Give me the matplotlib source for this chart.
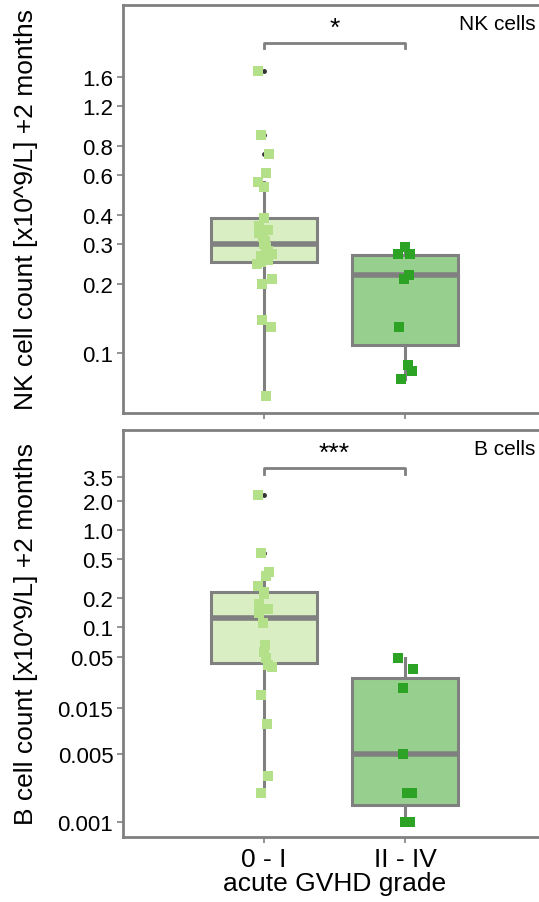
import numpy as np
import matplotlib
matplotlib.use("Agg")
import matplotlib.pyplot as plt
import matplotlib.transforms as mtransforms

plt.rcParams["font.family"] = ["Liberation Sans", "DejaVu Sans"]

# Grupos de GVHD aguda
grupos = ["0 - I", "II - IV"]

# Células NK (+2 meses), x10^9/L
nk_leve = [1.7, 0.9, 0.74, 0.61, 0.56, 0.53, 0.39, 0.36, 0.345, 0.335, 0.32,
           0.31, 0.30, 0.29, 0.28, 0.27, 0.265, 0.26, 0.255, 0.25, 0.245,
           0.21, 0.20, 0.14, 0.13, 0.065]
nk_grave = [0.29, 0.27, 0.27, 0.219, 0.21, 0.13, 0.0887, 0.0834, 0.077]

# Células B (+2 meses), x10^9/L
b_leve = [2.29, 0.58, 0.37, 0.34, 0.266, 0.23, 0.22, 0.174, 0.154, 0.14,
          0.11, 0.066, 0.056, 0.048, 0.041, 0.039, 0.020, 0.0102, 0.0030,
          0.0020]
b_grave = [0.048, 0.037, 0.024, 0.005, 0.002, 0.002, 0.001, 0.001]

# Estatísticas das caixas: [q1, mediana, q3, bigode inferior, bigode superior]
nk_caixas = [[0.25, 0.30, 0.389, 0.065, 0.56], [0.108, 0.219, 0.268, 0.077, 0.29]]
b_caixas = [[0.043, 0.125, 0.23, 0.002, 0.37], [0.0015, 0.005, 0.030, 0.001, 0.048]]
nk_outliers = [[1.7, 0.9, 0.74, 0.61], []]
b_outliers = [[2.29, 0.58], []]

# Marcas do eixo y
nk_ticks = [0.1, 0.2, 0.3, 0.4, 0.6, 0.8, 1.2, 1.6]
nk_ticklabels = ["0.1", "0.2", "0.3", "0.4", "0.6", "0.8", "1.2", "1.6"]
b_ticks = [0.001, 0.005, 0.015, 0.05, 0.1, 0.2, 0.5, 1.0, 2.0, 3.5]
b_ticklabels = ["0.001", "0.005", "0.015", "0.05", "0.1", "0.2", "0.5", "1.0", "2.0", "3.5"]

cor_pontos = ["#b3e088", "#2ca325"]
cor_caixa = ["#d9efc3", "#97d08e"]
cinza = "#808080"


def painel(ax, leve, grave, caixas, outliers, ticks, ticklabels, ylim,
           ylabel, titulo, sig):
    stats = []
    for k in range(2):
        q1, med, q3, lo, hi = caixas[k]
        stats.append(dict(q1=q1, med=med, q3=q3, whislo=lo, whishi=hi,
                          fliers=outliers[k]))
    bp = ax.bxp(stats, positions=[0, 1], widths=0.75, patch_artist=True,
                showcaps=False,
                boxprops=dict(edgecolor=cinza, linewidth=2.2),
                whiskerprops=dict(color=cinza, linewidth=2.2),
                medianprops=dict(color=cinza, linewidth=4),
                flierprops=dict(marker="o", markersize=2.5,
                                markerfacecolor="#333333",
                                markeredgecolor="#333333"))
    for k, caixa in enumerate(bp["boxes"]):
        caixa.set_facecolor(cor_caixa[k])
        caixa.set_zorder(1)

    # pontos individuais com um pequeno espalhamento horizontal
    rng = np.random.default_rng(3)
    for k, valores in enumerate([leve, grave]):
        x = k + rng.uniform(-0.05, 0.06, len(valores))
        ax.scatter(x, valores, marker="s", s=45, color=cor_pontos[k],
                   linewidths=0, zorder=4)

    ax.set_yscale("log")
    ax.set_ylim(ylim)
    ax.set_xlim(-1, 2)
    ax.yaxis.set_major_locator(matplotlib.ticker.FixedLocator(ticks))
    ax.yaxis.set_minor_locator(matplotlib.ticker.NullLocator())
    ax.set_yticklabels(ticklabels)
    ax.set_xticks([0, 1])
    ax.tick_params(axis="both", length=4, width=1.2, color=cinza,
                   labelsize=16, pad=3)
    for s in ax.spines.values():
        s.set_color(cinza)
        s.set_linewidth(2)

    ax.set_ylabel(ylabel, fontsize=19)
    ax.yaxis.set_label_coords(-0.2, 0.5)

    # barra de significância
    trans = mtransforms.blended_transform_factory(ax.transData, ax.transAxes)
    ax.plot([0, 0, 1, 1], [0.893, 0.906, 0.906, 0.893], color=cinza,
            linewidth=2, transform=trans, clip_on=False)
    ax.text(0.5, 0.915, sig, ha="center", va="bottom", fontsize=19,
            transform=trans)
    ax.text(0.976, 0.955, titulo, ha="right", va="center", fontsize=15,
            transform=ax.transAxes)


fig = plt.figure(figsize=(5.39, 9.03), dpi=100)
ax1 = fig.add_axes([0.2282, 0.5415, 0.7848, 0.4522])
ax2 = fig.add_axes([0.2282, 0.0720, 0.7848, 0.4507])

painel(ax1, nk_leve, nk_grave, nk_caixas, nk_outliers, nk_ticks, nk_ticklabels,
       (0.0547, 3.32), "NK cell count [x10^9/L] +2 months", "NK cells", "*")
painel(ax2, b_leve, b_grave, b_caixas, b_outliers, b_ticks, b_ticklabels,
       (0.0007, 10.7), "B cell count [x10^9/L] +2 months", "B cells", "***")

ax1.set_xticklabels([])
ax2.set_xticklabels(grupos, fontsize=19)
ax2.set_xlabel("acute GVHD grade", fontsize=19, labelpad=0)

plt.savefig("out.png", dpi=100)
